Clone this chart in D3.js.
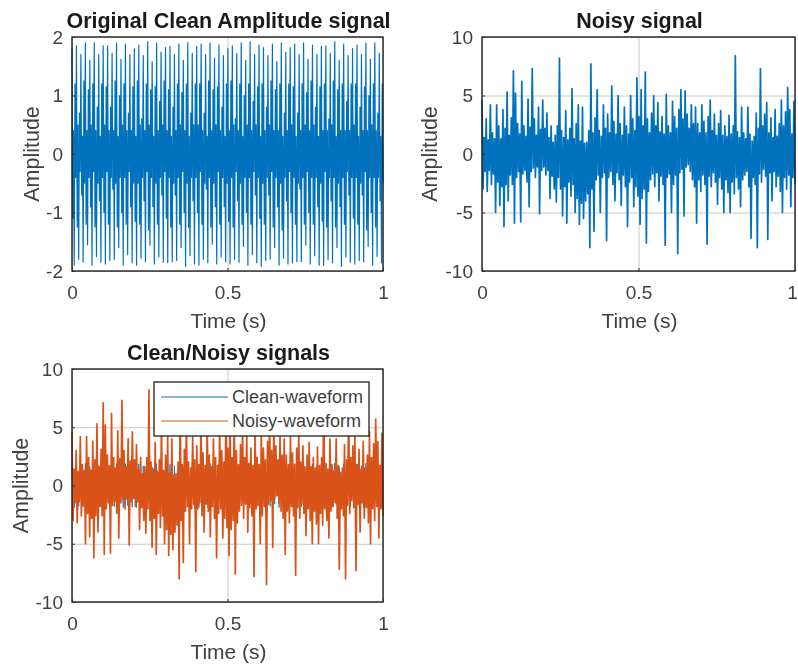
<!DOCTYPE html>
<html>
<head>
<meta charset="utf-8">
<title>Clean and noisy signals</title>
<script src="https://cdn.jsdelivr.net/npm/d3@7"></script>
<style>
  html, body { margin: 0; padding: 0; background: #fff; }
  svg { display: block; filter: blur(0.6px); font-family: "Liberation Sans", Arial, sans-serif; }
</style>
</head>
<body>
<div id="chart"></div>
<script>
// clean signal, read peak by peak: top, inner, inner, bottom, inner, inner
const cleanWave = [
  1.8, -1.1, 0.4, -1.9, 1.2, -0.4, 1.85, -1.25, 0.5, -1.8, 0.7, -0.3, 1.7, -0.7, 0.3, -1.85, 1.25, -0.5, 1.9, -1.2, 0.4, -1.55, 1.1, -0.4, 1.6, -0.9, 0.5, -1.9, 1.2, -0.3, 1.9, -1.25, 0.4, -1.75, 0.8, -0.5, 1.7, -0.8, 0.3, -1.85, 1.2, -0.4,
  1.85, -1.0, 0.5, -1.88, 1.15, -0.3, 1.85, -1.2, 0.4, -1.82, 0.8, -0.4, 1.72, -0.6, 0.4, -1.8, 1.25, -0.5, 1.9, -1.25, 0.3, -1.6, 1.0, -0.4, 1.62, -1.0, 0.5, -1.9, 1.2, -0.4, 1.88, -1.2, 0.4, -1.72, 0.7, -0.3, 1.7, -0.9, 0.4, -1.86, 1.15, -0.5,
  1.8, -1.15, 0.3, -1.9, 1.25, -0.5, 1.86, -1.2, 0.5, -1.78, 0.6, -0.4, 1.68, -0.8, 0.4, -1.84, 1.2, -0.3, 1.92, -1.3, 0.5, -1.56, 1.1, -0.4, 1.58, -0.9, 0.3, -1.88, 1.15, -0.5, 1.9, -1.2, 0.4, -1.76, 0.9, -0.4, 1.74, -0.7, 0.5, -1.85, 1.25, -0.3,
  1.82, -1.1, 0.4, -1.86, 1.1, -0.4, 1.84, -1.25, 0.3, -1.84, 0.8, -0.5, 1.7, -0.7, 0.4, -1.82, 1.2, -0.4, 1.88, -1.2, 0.5, -1.6, 1.05, -0.3, 1.6, -1.0, 0.4, -1.92, 1.2, -0.5, 1.9, -1.25, 0.3, -1.74, 0.7, -0.4, 1.72, -0.8, 0.5, -1.88, 1.2, -0.4,
  1.84, -1.0, 0.5, -1.9, 1.2, -0.3, 1.88, -1.2, 0.4, -1.8, 0.7, -0.5, 1.7, -0.6, 0.3, -1.86, 1.25, -0.4, 1.9, -1.25, 0.4, -1.54, 1.1, -0.5, 1.64, -0.9, 0.5, -1.88, 1.15, -0.3, 1.86, -1.2, 0.4, -1.76, 0.8, -0.4, 1.68, -0.9, 0.3, -1.84, 1.2, -0.5,
  1.8, -1.15, 0.4, -1.88, 1.25, -0.4, 1.85, -1.25, 0.5, -1.8, 0.6, -0.3, 1.72, -0.8, 0.4, -1.85, 1.2, -0.5, 1.9, -1.2, 0.3, -1.58, 1.0, -0.4, 1.6, -1.0, 0.5, -1.9, 1.2, -0.4, 1.92, -1.2, 0.4, -1.72, 0.9, -0.3, 1.7, -0.7, 0.5, -1.86, 1.15, -0.4,
  1.86, -1.1, 0.3, -1.92, 1.2, -0.5, 1.82, -1.2, 0.4, -1.82, 0.8, -0.4, 1.68, -0.7, 0.5, -1.8, 1.25, -0.3, 1.88, -1.25, 0.4, -1.6, 1.1, -0.4, 1.58, -0.9, 0.4, -1.9, 1.2, -0.5, 1.9, -1.3, 0.3, -1.78, 0.7, -0.4, 1.74, -0.8, 0.4, -1.88, 1.2, -0.3,
  1.82, -1.0, 0.5, -1.86, 1.15, -0.4, 1.88, -1.2, 0.3, -1.84, 0.7, -0.5, 1.7, -0.6, 0.4, -1.84, 1.2, -0.4, 1.9, -1.2, 0.5, -1.56, 1.05, -0.3, 1.62, -1.0, 0.4, -1.88, 1.25, -0.4, 1.86, -1.2, 0.5, -1.74, 0.8, -0.4, 1.7, -0.9, 0.3, -1.9, 1.15, -0.5,
  1.84, -1.15, 0.4, -1.9, 1.2, -0.3, 1.85, -1.25, 0.4, -1.8, 0.6, -0.4, 1.72, -0.8, 0.5, -1.86, 1.25, -0.4, 1.92, -1.25, 0.3, -1.6, 1.1, -0.5, 1.6, -0.9, 0.4, -1.92, 1.2, -0.4, 1.88, -1.2, 0.4, -1.76, 0.9, -0.3, 1.68, -0.7, 0.4, -1.85, 1.2, -0.4,
  1.8, -1.1, 0.5, -1.88, 1.2, -0.4, 1.86, -1.2, 0.3, -1.82, 0.8, -0.5, 1.7, -0.7, 0.4, -1.84, 1.15, -0.3, 1.9, -1.3, 0.4, -1.58, 1.0, -0.4, 1.62, -1.0, 0.5, -1.9, 1.2, -0.4, 1.9, -1.25, 0.4, -1.75, 0.7, -0.4, 1.72, -0.8, 0.3, -1.86, 1.2, -0.5
]

// noisy signal, read column by column: the high and the low of each column
const noisyHigh = [
  4.6, 1.4, 3.0, 1.2, 4.2, 1.8, 1.3, 4.2, 2.4, 1.3,
  3.8, 2.2, 5.3, 1.6, 3.1, 7.1, 5.2, 2.6, 1.7, 6.2,
  2.4, 1.5, 4.7, 2.3, 7.3, 3.0, 1.6, 4.0, 2.1, 4.6,
  2.2, 3.5, 1.4, 2.4, 1.0, 1.6, 2.4, 8.2, 2.0, 1.4,
  3.7, 1.2, 2.2, 5.6, 1.3, 2.6, 4.2, 1.1, 4.0, 0.9,
  1.0, 2.0, 7.7, 1.8, 3.1, 5.5, 2.0, 1.5, 4.2, 2.2,
  3.4, 1.8, 5.8, 2.8, 1.7, 5.0, 2.6, 1.6, 4.0, 2.4,
  1.7, 5.0, 3.0, 2.0, 6.5, 3.2, 5.5, 2.4, 7.0, 3.0,
  1.8, 3.5, 5.0, 2.4, 4.4, 1.9, 3.2, 1.7, 5.1, 2.4,
  1.8, 4.5, 3.2, 2.2, 3.8, 5.5, 3.0, 5.4, 3.4, 2.2,
  4.2, 2.6, 4.0, 2.6, 1.8, 4.2, 2.8, 1.8, 3.2, 4.6,
  2.0, 3.4, 1.6, 2.6, 3.7, 1.6, 2.4, 1.5, 3.3, 1.7,
  2.4, 8.4, 1.9, 1.4, 4.0, 1.8, 1.3, 4.0, 1.7, 1.1,
  1.5, 3.5, 2.2, 7.3, 2.4, 3.4, 4.4, 1.8, 3.1, 1.4,
  3.8, 1.5, 2.6, 4.6, 2.4, 3.6, 5.7, 3.8, 1.7, 4.5
]
const noisyLow = [
  -3.0, -1.5, -3.2, -1.4, -2.6, -1.7, -5.0, -2.4, -4.4, -2.8,
  -6.2, -2.6, -4.0, -1.8, -2.6, -5.9, -2.0, -1.5, -5.8, -1.7,
  -1.4, -2.4, -4.5, -1.5, -1.2, -2.0, -1.1, -5.1, -1.4, -1.1,
  -1.8, -1.4, -3.8, -1.9, -3.0, -4.1, -2.0, -3.0, -5.3, -2.8,
  -5.9, -2.4, -3.6, -2.6, -5.0, -3.8, -6.0, -4.2, -5.5, -4.0,
  -3.4, -8.0, -3.0, -6.6, -2.2, -1.8, -5.0, -2.0, -1.6, -7.4,
  -2.0, -1.5, -2.6, -4.0, -1.6, -2.2, -4.4, -1.8, -2.8, -6.2,
  -2.4, -2.0, -4.5, -2.8, -3.6, -6.0, -3.8, -3.0, -7.6, -3.2,
  -2.2, -1.7, -2.8, -1.6, -4.0, -1.9, -2.6, -7.8, -2.0, -1.7,
  -5.0, -2.6, -1.8, -8.5, -1.6, -1.3, -5.3, -1.1, -0.9, -1.5,
  -2.2, -2.8, -5.9, -2.2, -3.2, -1.8, -2.6, -7.7, -1.9, -2.8,
  -1.6, -2.4, -4.3, -2.0, -3.0, -5.0, -2.2, -3.3, -5.0, -2.4,
  -3.4, -2.0, -3.0, -4.5, -2.2, -1.8, -1.5, -2.8, -7.2, -2.0,
  -2.6, -8.0, -1.7, -2.4, -1.3, -1.9, -7.3, -1.6, -4.0, -1.5,
  -2.8, -1.9, -3.2, -5.0, -2.0, -3.0, -1.8, -4.5, -2.0, -2.6
]

const xTicks = [0, 0.5, 1]
const cleanTicks = [-2, -1, 0, 1, 2]
const noisyTicks = [-10, -5, 0, 5, 10]
const legendLabels = ['Clean-waveform', 'Noisy-waveform']

const blue = 'rgb(0,114,189)'
const orange = 'rgb(217,83,25)'
const inkColor = '#404040'

const noisyWave = d3.merge(noisyHigh.map((d, i) => [d, noisyLow[i]]))

const svg = d3.select('#chart').append('svg')
  .attr('width', 798)
  .attr('height', 666)

function drawPanel (box, opts) {
  const width = box.right - box.left
  const height = box.bottom - box.top

  const xScale = d3.scaleLinear().domain([0, 1]).range([box.left, box.right])
  const yScale = d3.scaleLinear().domain(opts.yDomain).range([box.bottom, box.top])

  const g = svg.append('g')

  // grid behind the lines
  const gridX = g.append('g')
    .attr('transform', `translate(0,${box.bottom})`)
    .call(d3.axisBottom(xScale).tickValues(xTicks).tickSize(-height).tickFormat(''))
  const gridY = g.append('g')
    .attr('transform', `translate(${box.left},0)`)
    .call(d3.axisLeft(yScale).tickValues(opts.yTicks).tickSize(-width).tickFormat(''))
  gridX.select('.domain').remove()
  gridY.select('.domain').remove()
  g.selectAll('.tick line').attr('stroke', '#c8c8c8').attr('stroke-width', 1)

  // signals
  opts.series.forEach(s => {
    const line = d3.line()
      .x((d, i) => xScale(i / (s.values.length - 1)))
      .y(d => yScale(d))
    g.append('path')
      .datum(s.values)
      .attr('fill', 'none')
      .attr('stroke', s.color)
      .attr('stroke-width', s.weight)
      .attr('stroke-linejoin', 'round')
      .attr('d', line)
  })

  // box and inward ticks
  g.append('rect')
    .attr('x', box.left)
    .attr('y', box.top)
    .attr('width', width)
    .attr('height', height)
    .attr('fill', 'none')
    .attr('stroke', '#202020')
    .attr('stroke-width', 1.4)

  const xAxis = g.append('g')
    .attr('transform', `translate(0,${box.bottom})`)
    .call(d3.axisBottom(xScale).tickValues(xTicks).tickSize(-3).tickSizeOuter(0).tickPadding(15).tickFormat(d => String(d)))
  const yAxis = g.append('g')
    .attr('transform', `translate(${box.left},0)`)
    .call(d3.axisLeft(yScale).tickValues(opts.yTicks).tickSize(-3).tickSizeOuter(0).tickPadding(9).tickFormat(d => String(d)))
  for (const axis of [xAxis, yAxis]) {
    axis.select('.domain').remove()
    axis.selectAll('.tick line').attr('stroke', '#303030')
    axis.selectAll('text')
      .attr('fill', inkColor)
      .style('font-size', '19px')
      .style('font-family', '"Liberation Sans", Arial, sans-serif')
  }

  // the window edge is close on the right panel, keep the last label inside
  if (box.right > 790) {
    xAxis.selectAll('.tick:last-of-type text').attr('dx', -3)
  }

  // title and axis labels
  g.append('text')
    .attr('x', (box.left + box.right) / 2 + 1)
    .attr('y', box.top - 9)
    .attr('text-anchor', 'middle')
    .attr('font-weight', 'bold')
    .attr('fill', '#1a1a1a')
    .style('font-size', '21.5px')
    .text(opts.title)

  g.append('text')
    .attr('x', (box.left + box.right) / 2 + 1)
    .attr('y', box.bottom + 57)
    .attr('text-anchor', 'middle')
    .attr('fill', inkColor)
    .style('font-size', '21px')
    .text('Time (s)')

  g.append('text')
    .attr('transform', `translate(${opts.yLabelX},${(box.top + box.bottom) / 2}) rotate(-90)`)
    .attr('text-anchor', 'middle')
    .attr('fill', inkColor)
    .style('font-size', '21.5px')
    .text('Amplitude')
}

drawPanel({ left: 72, right: 383, top: 37, bottom: 271 }, {
  title: 'Original Clean Amplitude signal',
  yDomain: [-2, 2],
  yTicks: cleanTicks,
  yLabelX: 39,
  series: [{ values: cleanWave, color: blue, weight: 1.2 }]
})

drawPanel({ left: 482, right: 795, top: 37, bottom: 271 }, {
  title: 'Noisy signal',
  yDomain: [-10, 10],
  yTicks: noisyTicks,
  yLabelX: 437,
  series: [{ values: noisyWave, color: blue, weight: 1.7 }]
})

drawPanel({ left: 72, right: 383, top: 369, bottom: 602 }, {
  title: 'Clean/Noisy signals',
  yDomain: [-10, 10],
  yTicks: noisyTicks,
  yLabelX: 28,
  series: [{ values: cleanWave, color: blue, weight: 0.8 }, { values: noisyWave, color: orange, weight: 1.7 }]
})

// legend sits on top of the third panel
const legend = svg.append('g').attr('transform', 'translate(154,382)')
legend.append('rect')
  .attr('width', 215)
  .attr('height', 54)
  .attr('fill', '#fff')
  .attr('stroke', '#202020')
  .attr('stroke-width', 1.3)

legend.selectAll('line')
  .data(legendLabels)
  .enter()
  .append('line')
  .attr('x1', 7)
  .attr('x2', 74)
  .attr('y1', (d, i) => 15 + i * 24)
  .attr('y2', (d, i) => 15 + i * 24)
  .attr('stroke', (d, i) => (i === 0 ? blue : orange))
  .attr('stroke-width', 1.2)

legend.selectAll('text')
  .data(legendLabels)
  .enter()
  .append('text')
  .attr('x', 78)
  .attr('y', (d, i) => 21 + i * 24)
  .attr('fill', inkColor)
  .style('font-size', '18px')
  .text(d => d)
</script>
</body>
</html>
